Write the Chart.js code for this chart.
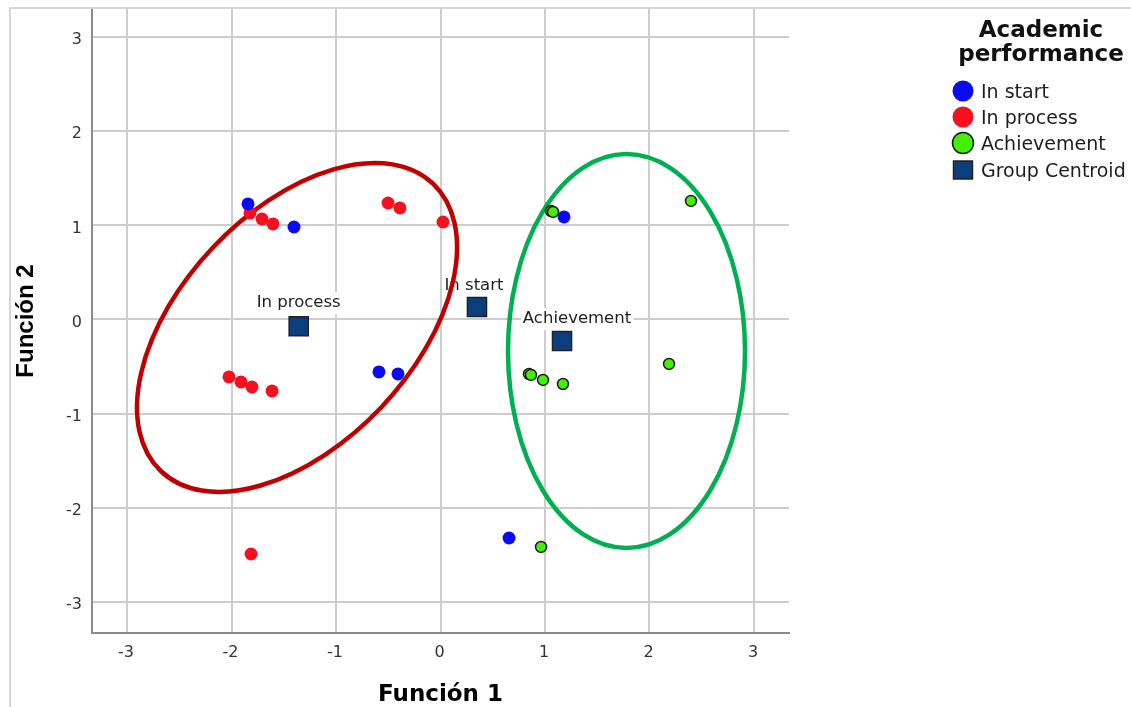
<!DOCTYPE html>
<html><head><meta charset="utf-8">
<script src="https://cdn.jsdelivr.net/npm/chart.js@4"></script>
<style>html,body{margin:0;padding:0;background:#fff}#wrap{width:1131px;height:707px;position:relative}</style>
</head><body><div id="wrap"><canvas id="c"></canvas></div>
<script>
// ---- data ----
const groupLabels = ['In start', 'In process', 'Achievement', 'Group Centroid'];
const legendTitle = ['Academic', 'performance'];
const xTitle = 'Función 1';
const yTitle = 'Función 2';
const xTicks = [-3, -2, -1, 0, 1, 2, 3];
const yTicks = [-3, -2, -1, 0, 1, 2, 3];

const inStartX = [-1.842, -1.402, -0.589, -0.407, 1.182, 0.656];
const inStartY = [1.228, 0.983, -0.558, -0.579, 1.090, -2.323];

const inProcessX = [-1.823, -1.708, -1.603, -0.502, -0.388, 0.024, -2.024, -1.909, -1.804, -1.612, -1.813];
const inProcessY = [1.132, 1.068, 1.015, 1.238, 1.185, 1.036, -0.611, -0.664, -0.718, -0.760, -2.493];

const achievementX = [1.058, 1.077, 2.397, 0.847, 0.866, 0.981, 1.172, 2.187, 0.962];
const achievementY = [1.153, 1.143, 1.260, -0.580, -0.590, -0.643, -0.686, -0.473, -2.418];

const centroidNames = ['In start', 'In process', 'Achievement'];
const centroidX = [0.349, -1.357, 1.163];
const centroidY = [0.133, -0.072, -0.229];

// group ellipses (centre in data units, semi-axes in x / y axis units, rotation in degrees)
const ellipseCX = [-1.373, 1.780];
const ellipseCY = [-0.085, -0.335];
const ellipseRX = [1.894, 1.134];
const ellipseRY = [1.234, 2.094];
const ellipseRot = [-46.6, 0];

// ---- build ----
const pts = (xs, ys) => xs.map((x, i) => ({ x: x, y: ys[i] }));

const frameBg = {
  id: 'frameBg',
  beforeDraw(chart) {
    const ctx = chart.ctx;
    ctx.save();
    ctx.fillStyle = '#fff';
    ctx.fillRect(0, 0, chart.width, chart.height);
    ctx.restore();
  },
  afterDraw(chart) {
    const ctx = chart.ctx;
    ctx.save();
    ctx.strokeStyle = '#d6d6d6';
    ctx.lineWidth = 2;
    ctx.beginPath();
    ctx.moveTo(10, chart.height);
    ctx.lineTo(10, 8);
    ctx.lineTo(chart.width, 8);
    ctx.stroke();
    ctx.restore();
  }
};

const ellipseColors = ['#c00000', '#00b050'];
const labelOffsets = [[-3, -17], [0, -19], [15, -18]];

const overlays = {
  id: 'overlays',
  beforeDatasetsDraw(chart) {
    const ctx = chart.ctx;
    const xs = chart.scales.x, ys = chart.scales.y;
    const meta = chart.getDatasetMeta(3);
    ctx.save();
    ctx.font = '16.5px "DejaVu Sans"';
    ctx.textAlign = 'center';
    ctx.textBaseline = 'alphabetic';
    meta.data.forEach((el, i) => {
      const tx = el.x + labelOffsets[i][0];
      const ty = el.y + labelOffsets[i][1];
      const w = ctx.measureText(centroidNames[i]).width;
      ctx.fillStyle = '#fff';
      ctx.fillRect(tx - w / 2 - 2, ty - 15, w + 4, 22);
      ctx.fillStyle = '#1e1e1e';
      ctx.fillText(centroidNames[i], tx, ty);
    });
    ctx.lineWidth = 4.5;
    ellipseCX.forEach((cx, i) => {
      const px = xs.getPixelForValue(cx);
      const py = ys.getPixelForValue(ellipseCY[i]);
      const rx = Math.abs(xs.getPixelForValue(cx + ellipseRX[i]) - px);
      const ry = Math.abs(ys.getPixelForValue(ellipseCY[i] + ellipseRY[i]) - py);
      ctx.strokeStyle = ellipseColors[i];
      ctx.beginPath();
      ctx.ellipse(px, py, rx, ry, ellipseRot[i] * Math.PI / 180, 0, Math.PI * 2);
      ctx.stroke();
    });
    ctx.restore();
  },
  afterDraw(chart) {
    const ctx = chart.ctx;
    ctx.save();
    ctx.fillStyle = '#111';
    ctx.textAlign = 'center';
    ctx.textBaseline = 'alphabetic';
    ctx.font = 'bold 23px "DejaVu Sans"';
    ctx.fillText(legendTitle[0], 1041, 37);
    ctx.fillText(legendTitle[1], 1041, 61);
    const rowY = [91, 117, 143, 170];
    ctx.font = '19px "DejaVu Sans"';
    ctx.textAlign = 'left';
    ctx.textBaseline = 'middle';
    chart.data.datasets.forEach((ds, i) => {
      const y = rowY[i];
      ctx.fillStyle = ds.backgroundColor;
      ctx.strokeStyle = ds.borderColor;
      ctx.lineWidth = ds.borderWidth || 0;
      ctx.beginPath();
      if (ds.pointStyle === 'rect') {
        ctx.rect(963 - 9.5, y - 9, 19, 18);
      } else {
        ctx.arc(963, y, 10.5, 0, Math.PI * 2);
      }
      ctx.fill();
      if (ds.borderWidth) ctx.stroke();
      ctx.fillStyle = '#1e1e1e';
      ctx.fillText(ds.label, 981, y + 2);
    });
    ctx.restore();
  }
};

const noPad = s => { s.paddingTop = 0; s.paddingBottom = 0; s.paddingLeft = 0; s.paddingRight = 0; };

new Chart(document.getElementById('c'), {
  type: 'scatter',
  data: {
    datasets: [
      { label: groupLabels[0], data: pts(inStartX, inStartY), backgroundColor: '#0a0af5', borderColor: '#0a0af5', borderWidth: 0, pointRadius: 6.5, pointStyle: 'circle', order: 2 },
      { label: groupLabels[1], data: pts(inProcessX, inProcessY), backgroundColor: '#f5101e', borderColor: '#f5101e', borderWidth: 0, pointRadius: 6.5, pointStyle: 'circle', order: 3 },
      { label: groupLabels[2], data: pts(achievementX, achievementY), backgroundColor: '#44f000', borderColor: '#1a1a1a', borderWidth: 1.5, pointRadius: 5.5, pointStyle: 'circle', order: 1 },
      { label: groupLabels[3], data: pts(centroidX, centroidY), backgroundColor: '#0b3f7c', borderColor: '#222', borderWidth: 1.5, pointRadius: 13.5, pointStyle: 'rect', order: 0 }
    ]
  },
  options: {
    responsive: true,
    maintainAspectRatio: false,
    animation: false,
    events: [],
    layout: { autoPadding: false, padding: { top: 9, right: 342, bottom: 0, left: 0 } },
    plugins: { legend: { display: false }, tooltip: { enabled: false } },
    scales: {
      x: {
        type: 'linear', min: -3.335, max: 3.335,
        afterBuildTicks: s => { s.ticks = xTicks.map(v => ({ value: v })); },
        afterFit: s => { s.height = 74; noPad(s); },
        ticks: { padding: 10, labelOffset: -1, color: '#333', font: { family: 'DejaVu Sans', size: 16 } },
        grid: { color: '#cdcdcd', lineWidth: 2, drawTicks: false },
        border: { color: '#8a8a8a', width: 2 },
        title: { display: true, text: xTitle, color: '#000', padding: 0, font: { family: 'DejaVu Sans', weight: 'bold', size: 23, lineHeight: 1 } }
      },
      y: {
        type: 'linear', min: -3.333, max: 3.30,
        afterBuildTicks: s => { s.ticks = yTicks.map(v => ({ value: v })); },
        afterFit: s => { s.width = 92; noPad(s); },
        ticks: { padding: 10, labelOffset: 3, color: '#333', font: { family: 'DejaVu Sans', size: 16 } },
        grid: { color: '#cdcdcd', lineWidth: 2, drawTicks: false },
        border: { color: '#8a8a8a', width: 2 },
        title: { display: true, text: yTitle, color: '#000', padding: { top: 14.5, bottom: 0 }, font: { family: 'Liberation Sans', weight: 'bold', size: 24, lineHeight: 1 } }
      }
    }
  },
  plugins: [frameBg, overlays]
});
</script>
</body></html>
